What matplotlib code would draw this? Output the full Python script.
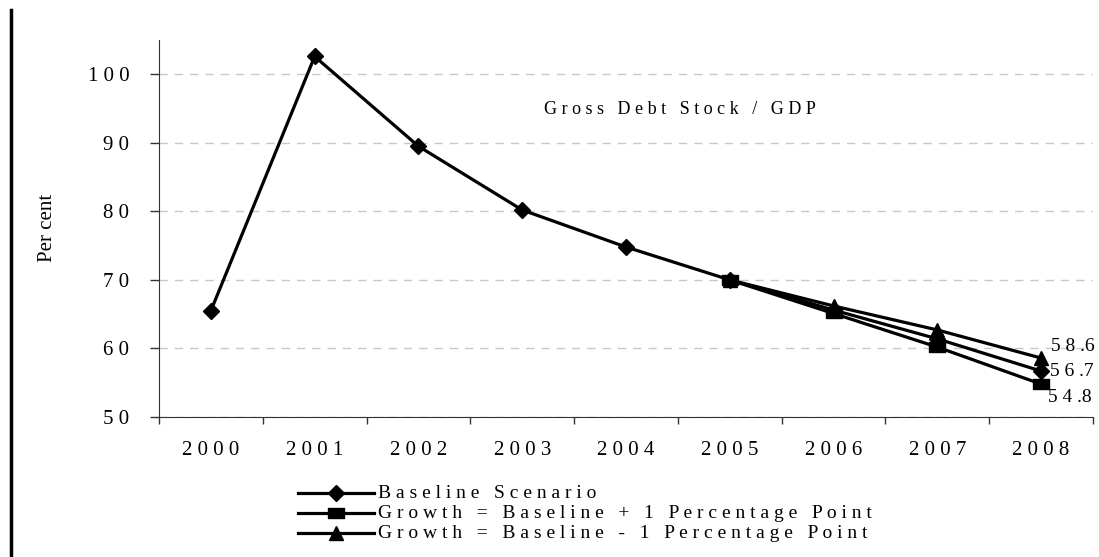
import matplotlib
matplotlib.use("Agg")
import matplotlib.pyplot as plt
from matplotlib.lines import Line2D

years = ["2000", "2001", "2002", "2003", "2004", "2005", "2006", "2007", "2008"]
baseline = [65.5, 102.6, 89.5, 80.2, 74.8, 70.0, 65.6, 61.4, 56.7]
growth_plus = [None, None, None, None, None, 70.0, 65.1, 60.2, 54.8]
growth_minus = [None, None, None, None, None, 70.0, 66.2, 62.7, 58.6]
series_names = ["Baseline Scenario",
                "Growth = Baseline + 1 Percentage Point",
                "Growth = Baseline - 1 Percentage Point"]
yticks = [50, 60, 70, 80, 90, 100]
chart_title = "Gross Debt Stock / GDP"
ylabel = "Per cent"

def spaced(s):
    return " ".join(list(s))

def spaced_num(v):
    s = f"{v:.1f}"
    a, b = s.split(".")
    return " ".join(list(a)) + " ." + b

plt.rcParams['font.family'] = ['Liberation Serif', 'DejaVu Serif']
FS = 15

fig = plt.figure(figsize=(10.99, 5.57), dpi=100)
ax = fig.add_axes([159/1099, 1 - 417/557, (1093-159)/1099, (417-40)/557])

xs = list(range(len(years)))
def pts(vals):
    p = [(x, v) for x, v in zip(xs, vals) if v is not None]
    return [a for a, b in p], [b for a, b in p]

rect = [(-1, -0.68), (1, -0.68), (1, 0.68), (-1, 0.68), (-1, -0.68)]
LW = 2.3
x1, y1 = pts(baseline)
x2, y2 = pts(growth_plus)
x3, y3 = pts(growth_minus)
ax.plot(x2, y2, color='black', lw=LW, marker=rect, ms=11, zorder=3)
ax.plot(x3, y3, color='black', lw=LW, marker='^', ms=10, zorder=3)
ax.plot(x1, y1, color='black', lw=LW, marker='D', ms=8, zorder=4)

ax.set_xlim(-0.5, len(years) - 0.5)
ax.set_ylim(50, 105)
ax.set_yticks(yticks)
ax.set_yticklabels([spaced(str(t)) for t in yticks], fontsize=FS)
ax.set_xticks([i - 0.5 for i in range(len(years) + 1)])
ax.set_xticklabels([])
ax.tick_params(axis='x', length=5, color='#333333', width=1)
ax.tick_params(axis='y', length=6.5, color='#333333', width=1, pad=15)
for i, yr in enumerate(years):
    ax.text(i, 50 - 4.9, spaced(yr), ha='center', va='center', fontsize=FS)

ax.grid(axis='y', linestyle=(0, (6, 5)), color='#c8c8c8', lw=1)
ax.set_axisbelow(True)
for s in ['top', 'right']:
    ax.spines[s].set_visible(False)
ax.spines['left'].set_color('#333333')
ax.spines['bottom'].set_color('#333333')

ax.text(4.52, 94.9, spaced(chart_title), ha='center', va='center', fontsize=13)

fig.text(48/1099, 1 - 228/557, ylabel, rotation=90, ha='center', va='center', fontsize=FS)

last = len(years) - 1
ax.text(last + 0.1, growth_minus[-1] + 1.75, spaced_num(growth_minus[-1]), ha='left', va='center', fontsize=14)
ax.text(last + 0.09, baseline[-1] - 0.1, spaced_num(baseline[-1]), ha='left', va='center', fontsize=14)
ax.text(last + 0.07, growth_plus[-1] - 1.9, spaced_num(growth_plus[-1]), ha='left', va='center', fontsize=14)

# legend drawn as line samples and labels
markers = ['D', rect, '^']
msizes = [8, 11, 10]
row_y = [493, 513, 533]
for name, mk, ms, ry in zip(series_names, markers, msizes, row_y):
    yf = 1 - ry / 557
    fig.add_artist(Line2D([298/1099, 374/1099], [yf, yf], color='black', lw=LW))
    fig.add_artist(Line2D([336/1099], [yf], color='black', marker=mk, ms=ms, lw=0))
    fig.text(378/1099, yf, spaced(name), ha='left', va='center', fontsize=14)

# page border line at left
fig.add_artist(Line2D([11/1099, 11/1099], [0, 1 - 10/557], color='black', lw=2.5))

fig.savefig("out.png", dpi=100)
